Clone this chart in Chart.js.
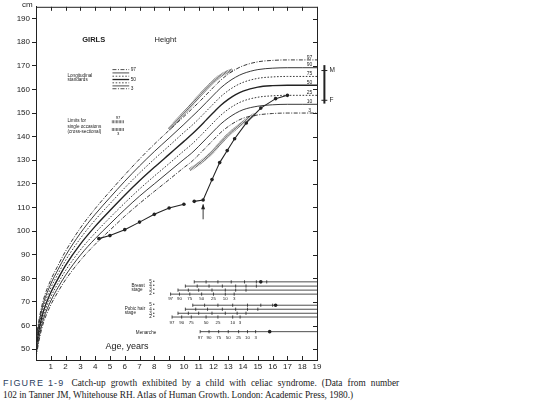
<!DOCTYPE html>
<html>
<head>
<meta charset="utf-8">
<script src="https://cdn.jsdelivr.net/npm/chart.js@4.4.0/dist/chart.umd.min.js"></script>
<style>
  html, body { margin: 0; padding: 0; background: #fff; }
  #wrap { position: relative; width: 550px; height: 407px; overflow: hidden; }
  #growth { position: absolute; left: 0; top: 0; }
  .caption { position: absolute; left: 3px; top: 377px; font-family: "Liberation Serif", "Times New Roman", serif; font-size: 9.3px; line-height: 12px; color: #222; white-space: nowrap; }
  .caption .first { word-spacing: 2.8px; }
  .caption .fig { font-family: "Liberation Sans", Arial, sans-serif; font-size: 9px; color: #2c3e60; letter-spacing: 1.2px; word-spacing: 0; margin-right: 7px; }
</style>
</head>
<body>
<div id="wrap">
  <canvas id="growth" width="550" height="375"></canvas>
  <div class="caption">
    <span class="first"><span class="fig">FIGURE 1-9</span>Catch-up growth exhibited by a child with celiac syndrome. (Data from number</span><br>
    102 in Tanner JM, Whitehouse RH. Atlas of Human Growth. London: Academic Press, 1980.)
  </div>
</div>
<script>
// Centile curves (girls height, cm)
const ages = [0, 0.25, 0.5, 1, 1.5, 2, 3, 4, 5, 6, 7, 8, 9, 10, 10.5, 11, 11.5, 12, 12.5, 13, 13.5, 14, 15, 16, 17, 18, 19];
const p97 = [54.4, 64.0, 70.9, 79.3, 85.6, 91.5, 101.3, 109.5, 116.8, 123.8, 130.5, 136.8, 142.7, 148.5, 151.5, 154.5, 157.7, 160.9, 164.0, 166.5, 168.5, 170.0, 171.7, 172.3, 172.5, 172.5, 172.5];
const p90 = [53.2, 62.6, 69.3, 77.6, 83.8, 89.6, 99.1, 107.1, 114.2, 121.1, 127.6, 133.7, 139.4, 145.2, 148.2, 151.2, 154.4, 157.6, 160.7, 163.2, 165.2, 166.7, 168.4, 169.0, 169.2, 169.2, 169.2];
const p75 = [51.9, 61.1, 67.7, 75.9, 82.0, 87.6, 96.9, 104.7, 111.6, 118.3, 124.6, 130.5, 136.1, 141.8, 144.5, 147.5, 150.7, 153.9, 157.0, 159.5, 161.5, 163.0, 164.7, 165.3, 165.5, 165.5, 165.5];
const p50 = [50.5, 59.5, 66.0, 74.0, 80.0, 85.5, 94.5, 102.0, 108.7, 115.2, 121.3, 127.0, 132.5, 138.0, 140.8, 143.8, 147.0, 150.2, 153.3, 155.8, 157.8, 159.3, 161.0, 161.6, 161.8, 161.8, 161.8];
const p25 = [49.1, 57.9, 64.3, 72.1, 78.0, 83.3, 92.0, 99.2, 105.7, 111.9, 117.8, 123.3, 128.6, 134.0, 136.6, 139.6, 142.8, 146.0, 149.1, 151.6, 153.6, 155.1, 156.7, 157.3, 157.5, 157.5, 157.5];
const p10 = [47.8, 56.4, 62.7, 70.4, 76.2, 81.3, 89.8, 96.8, 103.0, 109.1, 114.8, 120.0, 125.2, 130.4, 132.9, 135.9, 139.1, 142.3, 145.4, 147.9, 149.9, 151.4, 152.9, 153.5, 153.7, 153.7, 153.7];
const p3 = [46.6, 55.0, 61.1, 68.7, 74.4, 79.4, 87.6, 94.4, 100.4, 106.3, 111.7, 116.8, 121.8, 126.9, 129.3, 132.3, 135.5, 138.7, 141.8, 144.3, 146.3, 147.8, 149.2, 149.8, 150.0, 150.0, 150.0];

// Cross-sectional limits for single occasions (hatched bands)
const upperLimitAges = [9, 9.5, 10, 10.5, 11, 11.5, 12, 12.5, 13, 13.3];
const upperLimit = [143.2, 146.6, 150.0, 153.4, 156.9, 160.3, 163.4, 165.9, 167.6, 168.3];
const lowerLimitAges = [10.4, 11, 11.5, 12, 12.5, 13, 13.5, 14, 14.5, 14.8];
const lowerLimit = [126.0, 128.5, 131.0, 134.0, 137.5, 140.8, 143.5, 146.0, 148.3, 149.5];

// The child (null = gap in the record)
const patientAge = [4.25, 5.0, 6.0, 7.0, 8.0, 9.0, 10.0, 10.35, 10.7, 11.3, 11.9, 12.42, 12.93, 13.43, 14.22, 15.2, 16.2, 17.0];
const patientHeight = [96.8, 98.1, 100.6, 103.8, 107.1, 109.8, 111.4, null, 112.6, 113.2, 121.8, 129.0, 134.1, 139.1, 145.8, 152.1, 156.1, 157.5];

// Puberty standards: ages at the 97..3 centiles for each stage
const centileLabels = ['97', '90', '75', '50', '25', '10', '3'];
const breastStages = ['5', '4', '3', '2'];
const breastAges = [
  [10.7, 11.5, 12.3, 13.2, 14.1, 14.9, 15.6],
  [10.1, 10.9, 11.7, 12.6, 13.5, 14.2, 14.9],
  [9.6, 10.3, 11.0, 11.9, 12.8, 13.5, 14.2],
  [9.1, 9.7, 10.4, 11.2, 12.0, 12.8, 13.4]
];
const pubicStages = ['5', '4', '3', '2'];
const pubicAges = [
  [10.6, 11.4, 12.3, 13.3, 14.3, 15.2, 16.0],
  [10.1, 10.8, 11.6, 12.6, 13.5, 14.3, 15.0],
  [9.6, 10.3, 11.0, 11.9, 12.8, 13.6, 14.2],
  [9.2, 9.85, 10.5, 11.5, 12.3, 13.3, 13.8]
];
const menarcheAges = [11.1, 11.7, 12.35, 13.0, 13.7, 14.3, 14.85];
const patientBreast5 = 15.2;
const patientPubic5 = 16.2;
const patientMenarche = 15.8;

// Right-hand centile labels and parent heights
const finalLabels = ['97', '90', '75', '50', '25', '10', '3'];
const finalHeights = [172.5, 169.2, 165.5, 161.8, 157.5, 153.7, 150.0];
const parentM = 168.0;
const parentF = 155.4;

const ink = '#222';
const dashDot = [4, 1.5, 1, 1.5];
const dotted = [1.6, 1.6];
const hatch = [0.7, 0.7];

// Rows of the puberty panel (in cm units of the y axis)
const breastRows = [78.5, 76.7, 75.0, 73.3];
const pubicRows = [68.6, 66.9, 65.2, 63.6];
const menarcheRow = 57.4;

const pts = (xs, ys) => xs.map((a, i) => ({ x: a, y: ys[i] }));

const datasets = [];
function curve(data, width, dash, color) {
  datasets.push({
    data, borderColor: color || ink, borderWidth: width, borderDash: dash || [],
    pointRadius: 0, fill: false, cubicInterpolationMode: 'monotone'
  });
}

curve(pts(ages, p97), 0.9, dashDot);
curve(pts(ages, p90), 0.9);
curve(pts(ages, p75), 0.9, dotted);
curve(pts(ages, p50), 1.4);
curve(pts(ages, p25), 0.9, dotted);
curve(pts(ages, p10), 0.9);
curve(pts(ages, p3), 0.9, dashDot);
curve(pts(upperLimitAges, upperLimit), 3.2, hatch, '#4a4a4a');
curve(pts(lowerLimitAges, lowerLimit), 3.2, hatch, '#4a4a4a');

datasets.push({
  data: pts(patientAge, patientHeight), borderColor: ink, borderWidth: 1.1,
  pointRadius: 1.8, pointBackgroundColor: ink, pointBorderWidth: 0, spanGaps: false, tension: 0
});

// Puberty panel rows, centile ticks and the child's dots
function stageRow(ageList, rowY) {
  datasets.push({ data: [{ x: ageList[0], y: rowY }, { x: 19, y: rowY }], borderColor: ink, borderWidth: 0.8, pointRadius: 0 });
  datasets.push({ type: 'scatter', data: ageList.map(a => ({ x: a, y: rowY })), pointStyle: 'line', rotation: 90, radius: 1.6, borderColor: ink, borderWidth: 0.8 });
}
breastAges.forEach((row, i) => stageRow(row, breastRows[i]));
pubicAges.forEach((row, i) => stageRow(row, pubicRows[i]));
stageRow(menarcheAges, menarcheRow);
datasets.push({
  type: 'scatter',
  data: [{ x: patientBreast5, y: breastRows[0] }, { x: patientPubic5, y: pubicRows[0] }, { x: patientMenarche, y: menarcheRow }],
  pointRadius: 1.8, backgroundColor: ink, borderWidth: 0
});

const overlay = {
  id: 'overlay',
  afterDraw(chart) {
    const { ctx, chartArea: a, scales: { x, y } } = chart;
    const X = v => x.getPixelForValue(v);
    const Y = v => y.getPixelForValue(v);
    ctx.save();
    ctx.strokeStyle = ink;
    ctx.fillStyle = ink;
    ctx.lineWidth = 1;

    // frame top + right, inward ticks
    ctx.beginPath();
    ctx.moveTo(a.left, a.top + 0.5);
    ctx.lineTo(a.right + 0.5, a.top + 0.5);
    ctx.lineTo(a.right + 0.5, a.bottom);
    for (let i = 1; i <= 19; i++) {
      const px = Math.round(X(i)) + 0.5;
      ctx.moveTo(px, a.top); ctx.lineTo(px, a.top + 4);
      ctx.moveTo(px, a.bottom); ctx.lineTo(px, a.bottom - 4);
    }
    for (let v = 50; v <= 190; v += 10) {
      const py = Math.round(Y(v)) + 0.5;
      ctx.moveTo(a.right, py); ctx.lineTo(a.right - 4, py);
    }
    ctx.stroke();

    const txt = (s, ax, hy, size, align, weight) => {
      ctx.font = (weight || 'normal') + ' ' + size + 'px "Liberation Sans", Arial, sans-serif';
      ctx.textAlign = align || 'left';
      ctx.textBaseline = 'middle';
      ctx.fillText(s, X(ax), Y(hy));
    };

    ctx.font = '8px "Liberation Sans", Arial, sans-serif';
    ctx.textAlign = 'left'; ctx.textBaseline = 'top';
    ctx.fillText('cm', a.left - 14, 1);

    txt('GIRLS', 3.9, 180.8, 7.5, 'center', 'bold');
    txt('Height', 8.75, 180.8, 7.5, 'center');

    // legend: longitudinal standards
    txt('Longitudinal', 2.13, 165.8, 4.6);
    txt('standards', 2.13, 164.2, 4.6);
    const legendY = [168.4, 167.0, 165.6, 164.2, 162.8, 161.5, 160.3];
    const legendDash = [dashDot, [], dotted, [], dotted, [], dashDot];
    legendY.forEach((ly, i) => {
      ctx.beginPath();
      ctx.setLineDash(legendDash[i]);
      ctx.lineWidth = i === 3 ? 1.3 : 0.8;
      ctx.moveTo(X(5.17), Y(ly)); ctx.lineTo(X(6.3), Y(ly));
      ctx.stroke();
    });
    ctx.setLineDash([]);
    txt('97', 6.4, 168.4, 4.8);
    txt('50', 6.4, 164.2, 4.8);
    txt('3', 6.4, 160.4, 4.8);

    // legend: cross-sectional limits
    txt('Limits for', 2.13, 146.6, 4.6);
    txt('single occasions', 2.13, 144.3, 4.6);
    txt('(cross-sectional)', 2.13, 142.1, 4.6);
    ctx.strokeStyle = '#4a4a4a';
    ctx.lineWidth = 3;
    ctx.setLineDash(hatch);
    [146.3, 143.0].forEach(ly => {
      ctx.beginPath(); ctx.moveTo(X(5.13), Y(ly)); ctx.lineTo(X(5.95), Y(ly)); ctx.stroke();
    });
    ctx.setLineDash([]);
    ctx.strokeStyle = ink;
    txt('97', 5.55, 148.1, 4.2, 'center');
    txt('3', 5.55, 141.3, 4.2, 'center');

    // right-hand centile labels
    finalLabels.forEach((l, i) => txt(l, 18.5, finalHeights[i] + 1.1, 5, 'center'));

    // parent height bar
    ctx.lineWidth = 2;
    ctx.beginPath();
    ctx.moveTo(X(19.5), Y(170.3)); ctx.lineTo(X(19.5), Y(154.0));
    ctx.stroke();
    ctx.lineWidth = 1;
    ctx.beginPath();
    [parentM, parentF].forEach(v => { ctx.moveTo(X(19.3), Y(v)); ctx.lineTo(X(19.7), Y(v)); });
    ctx.stroke();
    txt('M', 19.85, parentM, 6.5);
    txt('F', 19.85, parentF, 6.5);

    // arrow under the child at 11.3 years
    ctx.lineWidth = 0.9;
    ctx.beginPath();
    ctx.moveTo(X(11.3), Y(105)); ctx.lineTo(X(11.3), Y(111.3));
    ctx.stroke();
    ctx.beginPath();
    ctx.moveTo(X(11.3), Y(111.5));
    ctx.lineTo(X(11.3) - 2, Y(109.3));
    ctx.lineTo(X(11.3) + 2, Y(109.3));
    ctx.closePath(); ctx.fill();

    txt('Age, years', 4.7, 51.3, 9);

    // puberty panel labels
    txt('Breast', 6.45, 76.9, 4.6);
    txt('stage', 6.45, 75.0, 4.6);
    breastStages.forEach((s, i) => txt(s + ' \u2022', 7.65, breastRows[i], 4.6));
    breastAges[3].forEach((ag, i) => txt(centileLabels[i], ag, 71.2, 4.4, 'center'));
    txt('Pubic hair', 6.0, 67.1, 4.6);
    txt('stage', 6.0, 65.3, 4.6);
    pubicStages.forEach((s, i) => txt(s + ' \u2022', 7.65, pubicRows[i], 4.6));
    pubicAges[3].forEach((ag, i) => txt(centileLabels[i], ag, 61.2, 4.4, 'center'));
    txt('Menarche', 6.75, 57.0, 4.6);
    menarcheAges.forEach((ag, i) => txt(centileLabels[i], ag, 55.0, 4.4, 'center'));

    ctx.restore();
  }
};

new Chart(document.getElementById('growth'), {
  type: 'line',
  data: { datasets },
  options: {
    responsive: false,
    animation: false,
    layout: { padding: { left: 0, right: 233, top: 4, bottom: 0 } },
    plugins: { legend: { display: false }, tooltip: { enabled: false } },
    scales: {
      x: {
        type: 'linear', min: 0, max: 19,
        afterFit: s => { s.height = 15; },
        grid: { drawOnChartArea: false, drawTicks: false },
        border: { color: ink, width: 1 },
        ticks: {
          stepSize: 1, autoSkip: false, maxRotation: 0, padding: 2, color: ink,
          font: { family: '"Liberation Sans", Arial, sans-serif', size: 8 },
          callback: v => (v === 0 ? '' : v)
        }
      },
      y: {
        min: 45.4, max: 195,
        afterFit: s => { s.width = 36; },
        grid: { drawOnChartArea: false, tickLength: 4, color: ink },
        border: { color: ink, width: 1 },
        ticks: {
          stepSize: 10, includeBounds: false, padding: 2, color: ink,
          font: { family: '"Liberation Sans", Arial, sans-serif', size: 8 }
        }
      }
    }
  },
  plugins: [overlay]
});
</script>
</body>
</html>
